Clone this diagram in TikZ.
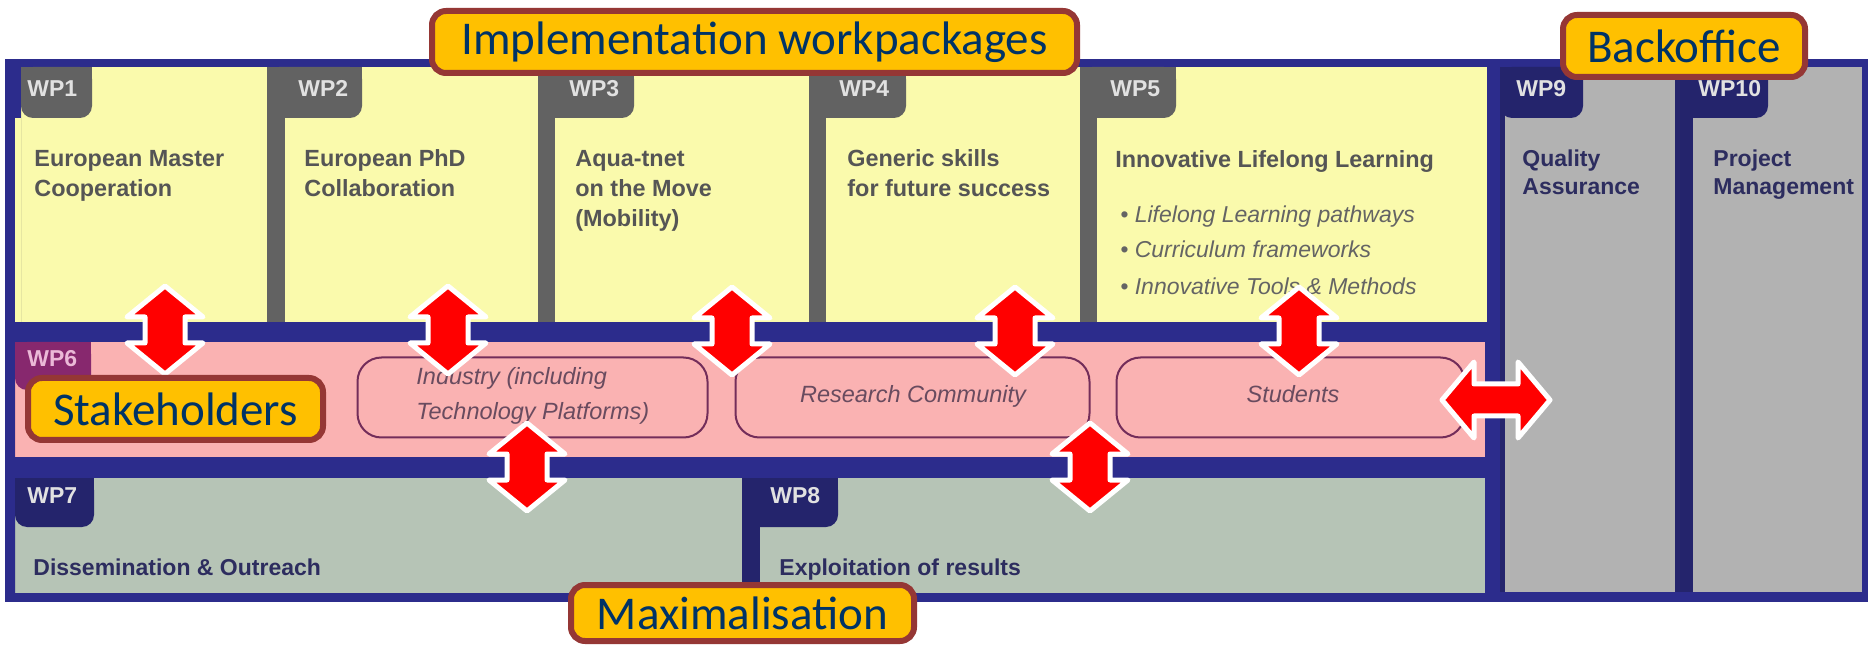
\documentclass[tikz,border=0pt]{standalone}
\usepackage{fontspec}
\setmainfont{Liberation Sans}
\newfontfamily\lblfont{Carlito}
\definecolor{framec}{RGB}{44,44,140}
\definecolor{yel}{RGB}{250,250,172}
\definecolor{tabg}{RGB}{98,98,98}
\definecolor{pinkc}{RGB}{250,178,178}
\definecolor{purp}{RGB}{135,40,110}
\definecolor{greenc}{RGB}{182,196,182}
\definecolor{navyc}{RGB}{36,36,108}
\definecolor{grayc}{RGB}{178,178,178}
\definecolor{wptxt}{RGB}{85,85,85}
\definecolor{bultxt}{RGB}{100,100,100}
\definecolor{navytxt}{RGB}{45,45,95}
\definecolor{tabtxt}{RGB}{225,225,225}
\definecolor{wpsixtxt}{RGB}{235,185,215}
\definecolor{boxborder}{RGB}{115,45,90}
\definecolor{italtxt}{RGB}{105,75,95}
\definecolor{lblfill}{RGB}{255,192,0}
\definecolor{lblborder}{RGB}{149,55,53}
\definecolor{lbltext}{RGB}{0,51,102}
% folder: L T R B stripwidth tabR tabB panelcolor tabcolor
\newcommand\wpfolder[9]{%
  \fill[#8] (#1,#2) rectangle (#3,#4);
  \fill[#9,rounded corners=6pt] (#1,#2) rectangle (#6,#7);
  \fill[#9] (#1,#2) rectangle (#6,{#2+25});
  \fill[#9] (#1,#2) rectangle ({#1+#5},#4);
}
\newcommand\vdarrow[3]{%
  \coordinate (#1) at (#2,#3);
  \begin{scope}[shift={(#2,#3)}]
  \filldraw[redarrow] (0,-44) -- (38,-13) -- (20,-13) -- (20,13) -- (38,13) -- (0,44)
     -- (-38,13) -- (-20,13) -- (-20,-13) -- (-38,-13) -- cycle;
  \end{scope}
}
\newcommand\hdarrow[3]{%
  \coordinate (#1) at (#2,#3);
  \begin{scope}[shift={(#2,#3)}]
  \filldraw[redarrow] (-54,0) -- (-22,-38) -- (-22,-16) -- (22,-16) -- (22,-38) -- (54,0)
     -- (22,38) -- (22,16) -- (-22,16) -- (-22,38) -- cycle;
  \end{scope}
}
\begin{document}
\begin{tikzpicture}[x=0.5pt,y=-0.5pt,
  redarrow/.style={fill=red, draw=white, line width=2.5pt, line join=round},
  wptext/.style={font=\bfseries\fontsize{11.7}{15}\selectfont, text=wptxt, anchor=base west, inner sep=0pt},
  bottext/.style={font=\bfseries\fontsize{11.5}{14.5}\selectfont, text=navytxt, anchor=base west, inner sep=0pt},
  bultext/.style={font=\itshape\fontsize{11.5}{14}\selectfont, text=bultxt, anchor=base west, inner sep=0pt},
  tablbl/.style={font=\bfseries\fontsize{11.5}{13}\selectfont, text=tabtxt, anchor=base west, inner sep=0pt},
  grp/.style={draw=boxborder, line width=1pt, rounded corners=12pt, minimum height=40pt},
  grptext/.style={text=italtxt, font=\itshape\fontsize{11.75}{17.5}\selectfont, inner sep=0pt},
  lbl/.style={draw=lblborder, line width=3pt, fill=lblfill, rounded corners=7pt, text=lbltext,
     font=\lblfont\fontsize{23.5}{28}\selectfont, inner sep=0pt, minimum height=31pt}]
\useasboundingbox (0,0) rectangle (1868,646);
\fill[white] (0,0) rectangle (1868,646);
% frame
\fill[framec] (5,59) rectangle (1868,602);
% top row
\fill[yel] (15,118) rectangle (21,322);
\wpfolder{21}{67}{267}{322}{0}{92}{118}{yel}{tabg}
\wpfolder{267}{67}{538}{322}{18}{362}{118}{yel}{tabg}
\wpfolder{538}{67}{809}{322}{17}{634}{118}{yel}{tabg}
\wpfolder{809}{67}{1080}{322}{17}{906}{118}{yel}{tabg}
\wpfolder{1080}{67}{1487}{322}{17}{1176}{118}{yel}{tabg}
% backoffice
\wpfolder{1500}{67}{1675}{592}{5}{1583}{118}{grayc}{navyc}
\wpfolder{1675}{67}{1862}{592}{18}{1768}{118}{grayc}{navyc}
% stakeholders row
\wpfolder{15}{342}{1485}{457}{0}{91}{390}{pinkc}{purp}
% bottom row
\wpfolder{15}{478}{742}{593}{0}{94}{527}{greenc}{navyc}
\wpfolder{742}{478}{1485}{593}{18}{838}{527}{greenc}{navyc}
% tab labels
\node[tablbl] (wp1) at (27,97) {WP1};
\node[tablbl] (wp2) at (298,97) {WP2};
\node[tablbl] (wp3) at (569,97) {WP3};
\node[tablbl] (wp4) at (839,97) {WP4};
\node[tablbl] (wp5) at (1110,97) {WP5};
\node[tablbl] (wp9) at (1516,97) {WP9};
\node[tablbl] (wp10) at (1698,97) {WP10};
\node[tablbl, text=wpsixtxt] (wp6) at (27,367) {WP6};
\node[tablbl] (wp7) at (27,503) {WP7};
\node[tablbl] (wp8) at (770,503) {WP8};
% WP texts
\node[wptext] (t1a) at (34,167) {European Master};
\node[wptext] (t1b) at (34,197) {Cooperation};
\node[wptext] (t2a) at (304,167) {European PhD};
\node[wptext] (t2b) at (304,197) {Collaboration};
\node[wptext] (t3a) at (575,167) {Aqua-tnet};
\node[wptext] (t3b) at (575,197) {on the Move};
\node[wptext] (t3c) at (575,227) {(Mobility)};
\node[wptext] (t4a) at (847,167) {Generic skills};
\node[wptext] (t4b) at (847,197) {for future success};
\node[wptext] (t5) at (1115,168) {Innovative Lifelong Learning};
\node[bultext] (b1) at (1120,223) {\textbullet\ Lifelong Learning pathways};
\node[bultext] (b2) at (1120,258) {\textbullet\ Curriculum frameworks};
\node[bultext] (b3) at (1120,295) {\textbullet\ Innovative Tools \& Methods};
\node[bottext] (t9a) at (1522,167) {Quality};
\node[bottext] (t9b) at (1522,195) {Assurance};
\node[bottext] (t10a) at (1713,167) {Project};
\node[bottext] (t10b) at (1713,195) {Management};
\node[bottext] (t7) at (33,575) {Dissemination \& Outreach};
\node[bottext] (t8) at (779,575) {Exploitation of results};
% stakeholder groups
\node[grp, minimum width=175pt] (ind) at (532.5,397.5) {};
\node[grp, minimum width=177pt] (res) at (912.5,397.5) {};
\node[grp, minimum width=174pt] (stu) at (1290.5,397.5) {};
\node[grptext, anchor=base west] (indA) at (416,385) {Industry (including};
\node[grptext, anchor=base west] (indB) at (416,420) {Technology Platforms)};
\node[grptext, anchor=base] (resT) at (913,402) {Research Community};
\node[grptext, anchor=base] (stuT) at (1293,402) {Students};
% arrows
\vdarrow{a1}{165}{330}
\vdarrow{a2}{448}{330}
\vdarrow{a3}{732}{331}
\vdarrow{a4}{1015}{331}
\vdarrow{a5}{1299}{331}
\vdarrow{a6}{527}{467}
\vdarrow{a7}{1090}{467}
\hdarrow{a8}{1496}{400}
% labels
\node[lbl, minimum width=322.5pt] (impl) at (754.5,42) {Implementation workpackages};
\node[lbl, minimum width=121pt] (back) at (1684,46) {Backoffice};
\node[lbl, minimum width=147.5pt] (stake) at (175.5,409) {Stakeholders};
\node[lbl, minimum width=171.5pt, minimum height=28pt] (maxi) at (742.5,613) {Maximalisation};
\end{tikzpicture}
\end{document}
